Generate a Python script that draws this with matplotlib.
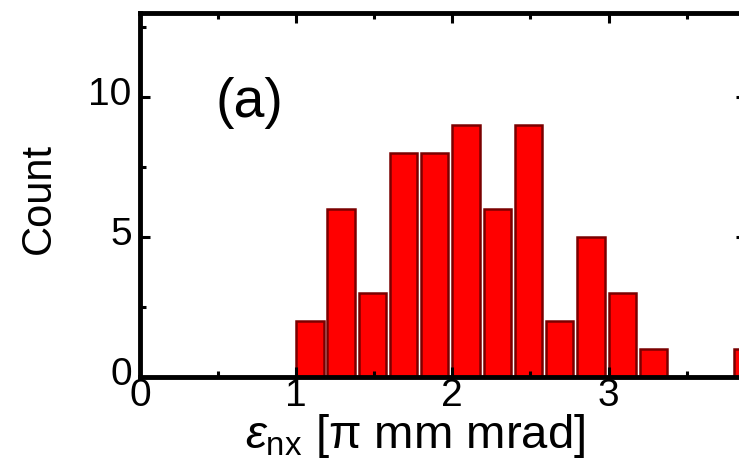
import matplotlib
matplotlib.use("Agg")
import matplotlib.pyplot as plt
from matplotlib.ticker import MultipleLocator
from matplotlib.transforms import ScaledTranslation

plt.rcParams['font.family'] = ['Liberation Sans', 'DejaVu Sans']
plt.rcParams['mathtext.fontset'] = 'custom'
plt.rcParams['mathtext.rm'] = 'Liberation Sans'
plt.rcParams['mathtext.it'] = 'Liberation Sans:italic'
plt.rcParams['mathtext.bf'] = 'Liberation Sans:bold'

# Data: histogram bins (left edges, pi mm mrad) and counts
bin_lefts = [1.0, 1.2, 1.4, 1.6, 1.8, 2.0, 2.2, 2.4, 2.6, 2.8, 3.0, 3.2, 3.4, 3.6, 3.8]
counts    = [2,   6,   3,   8,   8,   9,   6,   9,   2,   5,   3,   1,   0,   0,   1]
bar_width = 0.175

x_ticks = [0, 1, 2, 3]
y_ticks = [0, 5, 10]

W, H = 739, 459
fig = plt.figure(figsize=(W / 100, H / 100), dpi=100)
ax = fig.add_axes([140 / W, 82 / H, 606 / W, 364 / H])

ax.bar(bin_lefts, counts, width=bar_width, align='edge',
       color='#ff0000', edgecolor='#7a0000', linewidth=1.8, zorder=1)

ax.set_xlim(0, 3.88)
ax.set_ylim(0, 13)

ax.set_xticks(x_ticks)
ax.set_yticks(y_ticks)
ax.xaxis.set_minor_locator(MultipleLocator(0.5))
ax.yaxis.set_minor_locator(MultipleLocator(2.5))

for s in ax.spines.values():
    s.set_linewidth(3.5)
    s.set_color('black')

ax.tick_params(axis='both', which='both', direction='in',
               top=True, right=True, colors='black')
ax.tick_params(axis='both', which='major', length=7.5, width=2.2)
ax.tick_params(axis='both', which='minor', length=4.5, width=2.2)
ax.tick_params(axis='x', which='major', labelsize=28, pad=1)
ax.tick_params(axis='y', which='major', labelsize=28, pad=6)

offset = ScaledTranslation(0, 4 / 72, fig.dpi_scale_trans)
for t in ax.yaxis.get_major_ticks():
    t.label1.set_transform(t.label1.get_transform() + offset)

ax.set_ylabel('Count', fontsize=30, va='center')
ax.yaxis.set_label_coords(-0.1667, 0.49)

ax.set_xlabel(r'$\varepsilon_{\mathrm{nx}}$ [π mm mrad]', fontsize=34, va='center')
ax.xaxis.set_label_coords(0.454, -0.162)

ax.text(0.70, 9.8, '(a)', fontsize=40, ha='center', va='center')

fig.savefig('out.png', dpi=100)
